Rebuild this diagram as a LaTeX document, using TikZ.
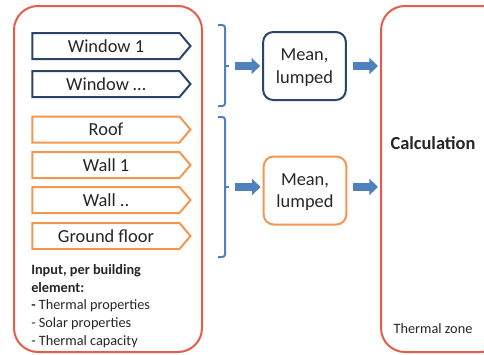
\documentclass[tikz,border=0pt]{standalone}
\usepackage{fontspec}
\setmainfont{Carlito}
\usepackage{xcolor}
\usepackage{tikz}
\usetikzlibrary{arrows.meta,shapes.symbols}

\definecolor{zonered}{HTML}{E35D4A}
\definecolor{winblue}{HTML}{2B4468}
\definecolor{wallorange}{HTML}{F5964F}
\definecolor{bracketblue}{HTML}{4F81BD}
\definecolor{textgray}{HTML}{262626}

\tikzset{
  bigbox/.style={draw=zonered, line width=1.5pt, rounded corners=18pt, outer sep=0pt},
  element/.style={shape=signal, signal to=east, signal pointer angle=100, draw,
    line width=1.5pt, fill=white, minimum width=118.5pt, minimum height=19.5pt,
    inner sep=0pt, text=textgray, font=\fontsize{13.8}{16.5}\selectfont},
  window/.style={element, draw=winblue},
  wall/.style={element, draw=wallorange},
  meanbox/.style={draw, line width=1.5pt, rounded corners=7.5pt, minimum width=62pt,
    minimum height=51pt, align=center, text depth=0pt, text=textgray,
    font=\fontsize{13.8}{17}\selectfont},
  bracket/.style={draw=bracketblue, line width=1.5pt, rounded corners=2pt},
  blockarrow/.style={draw=bracketblue, line width=5.5pt, -{Triangle[length=6.5pt,width=12pt]}},
}

\begin{document}
\begin{tikzpicture}[x=0.75pt, y=-0.75pt]
\useasboundingbox (0,0) rectangle (484,354);
\clip (0,0) rectangle (484,354);
% boxes
\node[bigbox, minimum width=141pt, minimum height=259.5pt, anchor=north west] (input) at (14,6) {};
\node[bigbox, minimum width=93pt, minimum height=259.5pt, anchor=north west] (zone) at (381,6) {};
% building elements
\node[window] (win1) at (106,46) {Window 1};
\node[window] (win2) at (106,84) {Window \dots};
\node[wall] (roof) at (106,129.5) {Roof};
\node[wall] (wall1) at (106,165) {Wall 1};
\node[wall] (wall2) at (106,200) {Wall ..};
\node[wall] (ground) at (106,236) {Ground floor};
\node[anchor=north west, align=left, inner sep=0pt, text=textgray,
  font=\fontsize{10.7}{13.2}\selectfont] (props) at (31,264.5)
  {\textbf{Input, per building}\\\textbf{element:}\\\textbf{-} Thermal properties\\- Solar properties\\- Thermal capacity};
% lumping
\node[meanbox, draw=winblue] (mean1) at (304.5,66) {Mean,\\lumped};
\node[meanbox, draw=wallorange] (mean2) at (305,190.5) {Mean,\\lumped};
\node[text=textgray, font=\bfseries\fontsize{13.8}{16.5}\selectfont] (calc) at (433,143) {Calculation};
\node[text=textgray, font=\fontsize{10.7}{13}\selectfont] (zonename) at (433,329) {Thermal zone};
% brackets
\draw[bracket] (218,25) -- (225,25) -- (225,106) -- (218,106);
\draw[bracket] (225,66) -- (229,66) coordinate (brace1);
\draw[bracket] (218,117) -- (225,117) -- (225,257) -- (218,257);
\draw[bracket] (225,187) -- (229,187) coordinate (brace2);
% arrows
\draw[blockarrow, shorten <=4.5pt, shorten >=1.5pt] (brace1) -- (brace1 -| mean1.west);
\draw[blockarrow, shorten <=4.5pt, shorten >=2.25pt] (mean1.east) -- (mean1.east -| zone.west);
\draw[blockarrow, shorten <=4.5pt, shorten >=1.5pt] (brace2) -- (brace2 -| mean2.west);
\draw[blockarrow, shorten <=4.5pt, shorten >=2.25pt] (mean2.east |- brace2) -- (brace2 -| zone.west);
\end{tikzpicture}
\end{document}
